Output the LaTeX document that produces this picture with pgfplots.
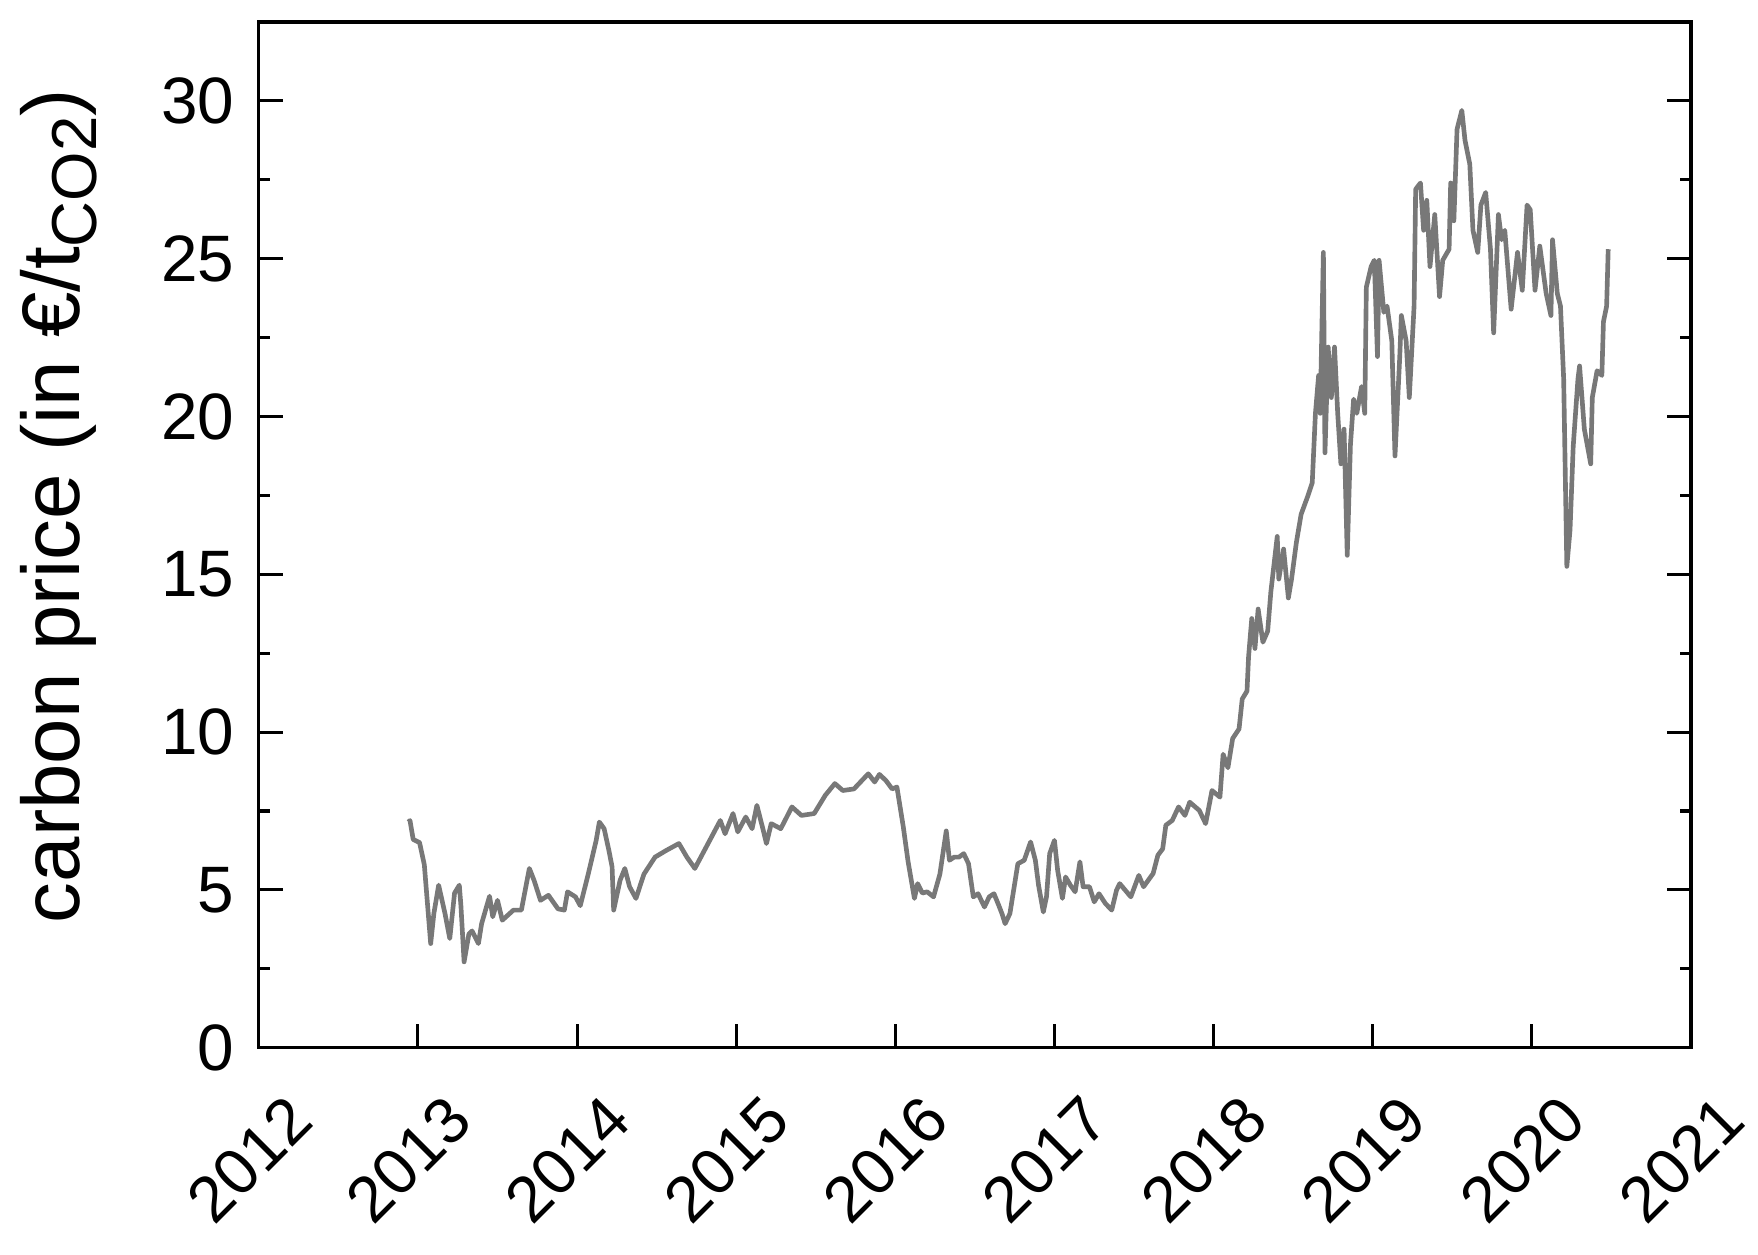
\documentclass[border=0pt]{standalone}
\usepackage{fontspec}
\setmainfont{Liberation Sans}
\usepackage{pgfplots}
\pgfplotsset{compat=1.18}
\definecolor{cLine}{HTML}{787878}
\newcommand{\bigfont}{\fontsize{12.5}{15}\selectfont}
\newcommand{\labfont}{\fontsize{15.8}{19}\selectfont}

\begin{document}
\begin{tikzpicture}
\begin{axis}[
    scale only axis, width=277.15pt, height=198.5pt,
    xmin=2012, xmax=2021, ymin=0, ymax=32.5,
    xtick={2012,2013,...,2021},
    ytick={0,5,...,30}, minor ytick={2.5,7.5,...,30},
    xtick pos=lower, ytick pos=both, tick align=inside,
    major tick length=4.6pt, minor tick length=2.2pt,
    axis line style={line width=0.6pt}, every tick/.style={black, line width=0.6pt},
    /pgf/number format/assume math mode=true,
    /pgf/number format/1000 sep={},
    tick label style={font=\bigfont},
    xticklabel style={rotate=45, anchor=east, inner sep=1pt, xshift=-1.5pt, yshift=-14pt},
    yticklabel style={font=\fontsize{12.7}{15}\selectfont, xshift=-1.2pt},
    ylabel={carbon price (in €/t\raisebox{-3.2pt}{\fontsize{12.3}{14}\selectfont CO2})},
    ylabel style={font=\labfont, at={(axis description cs:-0.125,0.528)}, anchor=base},
]
\addplot[cLine, line width=0.9pt, line join=round] coordinates {
(2012.94,7.15) (2012.95,7.2) (2012.97,6.6) (2013.01,6.5) (2013.04,5.8)
(2013.08,3.3) (2013.10,4.25) (2013.13,5.15) (2013.17,4.25) (2013.20,3.46)
(2013.23,4.9) (2013.26,5.15) (2013.27,4.5) (2013.29,2.72) (2013.32,3.6)
(2013.34,3.7) (2013.38,3.3) (2013.40,3.93) (2013.45,4.8) (2013.47,4.15)
(2013.50,4.67) (2013.53,4.04) (2013.60,4.36) (2013.65,4.36) (2013.70,5.68)
(2013.73,5.3) (2013.77,4.67) (2013.82,4.83) (2013.88,4.4) (2013.92,4.36)
(2013.94,4.94) (2013.99,4.78) (2014.02,4.5) (2014.07,5.5) (2014.12,6.57)
(2014.14,7.15) (2014.17,6.94) (2014.20,6.25) (2014.22,5.73) (2014.23,4.36)
(2014.27,5.3) (2014.30,5.68) (2014.33,5.1) (2014.37,4.73) (2014.42,5.5)
(2014.49,6.04) (2014.56,6.25) (2014.64,6.47) (2014.69,6.04) (2014.74,5.68)
(2014.80,6.25) (2014.90,7.2) (2014.93,6.78) (2014.98,7.42) (2015.01,6.84)
(2015.06,7.31) (2015.10,6.94) (2015.13,7.68) (2015.17,6.89) (2015.19,6.47)
(2015.22,7.1) (2015.28,6.94) (2015.35,7.63) (2015.41,7.36) (2015.49,7.42)
(2015.56,8.0) (2015.62,8.37) (2015.67,8.15) (2015.74,8.2) (2015.83,8.68)
(2015.87,8.42) (2015.90,8.66) (2015.94,8.47) (2015.98,8.2) (2016.01,8.26)
(2016.05,7.0) (2016.08,5.9) (2016.12,4.73) (2016.14,5.2) (2016.17,4.9)
(2016.20,4.94) (2016.24,4.78) (2016.28,5.5) (2016.32,6.87) (2016.34,5.94)
(2016.37,6.04) (2016.40,6.04) (2016.43,6.15) (2016.46,5.83) (2016.49,4.78)
(2016.52,4.88) (2016.56,4.46) (2016.59,4.78) (2016.62,4.88) (2016.65,4.51)
(2016.67,4.25) (2016.69,3.93) (2016.72,4.25) (2016.77,5.83) (2016.81,5.94)
(2016.85,6.52) (2016.88,5.94) (2016.90,5.15) (2016.93,4.3) (2016.95,4.78)
(2016.97,6.15) (2017.00,6.57) (2017.02,5.62) (2017.05,4.73) (2017.07,5.41)
(2017.10,5.15) (2017.13,4.94) (2017.16,5.89) (2017.18,5.1) (2017.22,5.1)
(2017.25,4.62) (2017.28,4.88) (2017.32,4.57) (2017.36,4.36) (2017.39,4.99)
(2017.41,5.2) (2017.48,4.78) (2017.53,5.46) (2017.56,5.1) (2017.62,5.52)
(2017.65,6.1) (2017.68,6.3) (2017.70,7.05) (2017.74,7.2) (2017.78,7.63)
(2017.82,7.36) (2017.85,7.78) (2017.91,7.52) (2017.95,7.1) (2017.99,8.15)
(2018.04,7.94) (2018.06,9.3) (2018.09,8.87) (2018.12,9.8) (2018.16,10.1)
(2018.18,11.05) (2018.21,11.3) (2018.22,12.4) (2018.24,13.6) (2018.26,12.65)
(2018.28,13.9) (2018.31,12.85) (2018.34,13.2) (2018.36,14.45) (2018.40,16.2)
(2018.41,14.85) (2018.44,15.8) (2018.47,14.25) (2018.49,14.85) (2018.52,16.0)
(2018.55,16.9) (2018.59,17.45) (2018.62,17.9) (2018.64,20.1) (2018.66,21.3)
(2018.67,20.1) (2018.69,25.2) (2018.70,18.85) (2018.72,22.2) (2018.74,20.6)
(2018.76,22.2) (2018.78,20.1) (2018.80,18.5) (2018.82,19.6) (2018.84,15.6)
(2018.86,19.1) (2018.88,20.55) (2018.90,20.1) (2018.93,20.95) (2018.95,20.1)
(2018.96,24.1) (2018.99,24.75) (2019.01,24.95) (2019.03,21.9) (2019.04,24.95)
(2019.07,23.3) (2019.09,23.5) (2019.12,22.4) (2019.14,18.75) (2019.17,21.9)
(2019.18,23.2) (2019.21,22.4) (2019.23,20.6) (2019.26,23.5) (2019.27,27.2)
(2019.30,27.4) (2019.32,25.9) (2019.34,26.85) (2019.36,24.75) (2019.39,26.4)
(2019.42,23.8) (2019.44,24.95) (2019.48,25.3) (2019.49,27.4) (2019.51,26.2)
(2019.53,29.1) (2019.56,29.7) (2019.58,28.75) (2019.61,28.0) (2019.63,25.9)
(2019.66,25.2) (2019.68,26.7) (2019.71,27.1) (2019.74,25.3) (2019.76,22.65)
(2019.79,26.4) (2019.81,25.6) (2019.83,25.9) (2019.87,23.4) (2019.91,25.2)
(2019.94,24.0) (2019.97,26.7) (2019.99,26.55) (2020.02,24.0) (2020.05,25.4)
(2020.09,23.9) (2020.12,23.2) (2020.13,25.6) (2020.16,23.9) (2020.18,23.5)
(2020.20,21.2) (2020.22,15.25) (2020.24,16.4) (2020.26,19.05) (2020.29,21.2)
(2020.30,21.6) (2020.33,19.6) (2020.35,19.05) (2020.37,18.5) (2020.38,20.6)
(2020.41,21.45) (2020.44,21.3) (2020.45,23.0) (2020.47,23.5) (2020.48,25.3)
};
\end{axis}
\pgfresetboundingbox
\path[use as bounding box] ([xshift=-50.09pt,yshift=-39.93pt]current axis.south west)
  rectangle ([xshift=12.97pt,yshift=4.26pt]current axis.north east);
\end{tikzpicture}
\end{document}
